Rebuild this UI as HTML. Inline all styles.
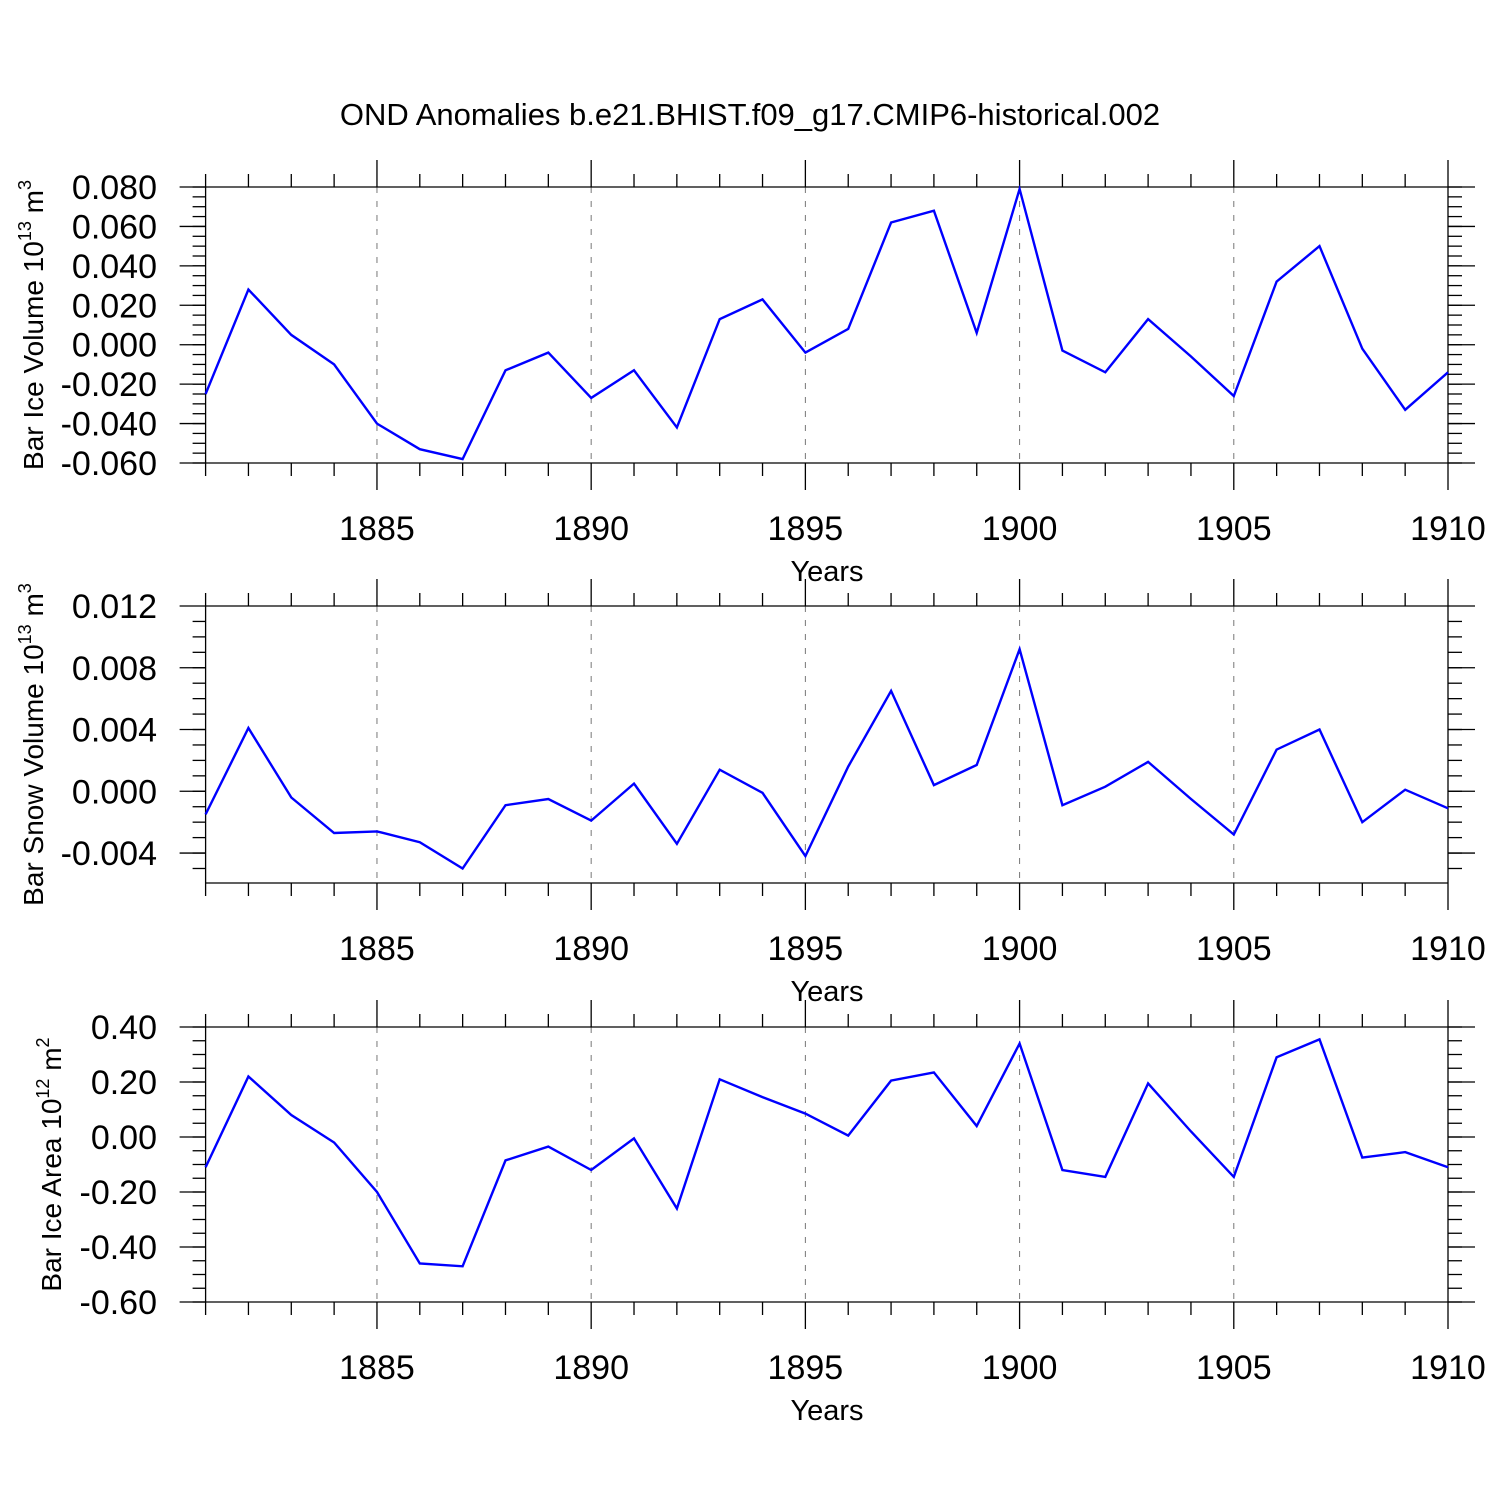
<!DOCTYPE html>
<html><head><meta charset="utf-8"><style>
body{margin:0;background:#fff}
svg{display:block;font-family:"Liberation Sans",sans-serif}
</style></head><body>
<svg id="c" width="1500" height="1500" viewBox="0 0 1500 1500">
<text x="750" y="125" font-size="31" text-anchor="middle">OND Anomalies b.e21.BHIST.f09_g17.CMIP6-historical.002</text>
</svg>
<script>
const years = [1881,1882,1883,1884,1885,1886,1887,1888,1889,1890,1891,1892,1893,1894,1895,1896,1897,1898,1899,1900,1901,1902,1903,1904,1905,1906,1907,1908,1909,1910];
const iceVolume = [-0.025,0.028,0.005,-0.010,-0.040,-0.053,-0.058,-0.013,-0.004,-0.027,-0.013,-0.042,0.013,0.023,-0.004,0.008,0.062,0.068,0.006,0.079,-0.003,-0.014,0.013,-0.006,-0.026,0.032,0.050,-0.002,-0.033,-0.014];
const snowVolume = [-0.0015,0.0041,-0.0004,-0.0027,-0.0026,-0.0033,-0.0050,-0.0009,-0.0005,-0.0019,0.0005,-0.0034,0.0014,-0.0001,-0.0042,0.0016,0.0065,0.0004,0.0017,0.0092,-0.0009,0.0003,0.0019,-0.0005,-0.0028,0.0027,0.0040,-0.0020,0.0001,-0.0011];
const iceArea = [-0.11,0.22,0.08,-0.02,-0.20,-0.46,-0.47,-0.085,-0.035,-0.12,-0.005,-0.26,0.21,0.145,0.085,0.005,0.205,0.235,0.04,0.34,-0.12,-0.145,0.195,0.02,-0.145,0.29,0.355,-0.075,-0.055,-0.11];
const xTickLabels = [1885,1890,1895,1900,1905,1910];
const iceVolTicks = [0.080,0.060,0.040,0.020,0.000,-0.020,-0.040,-0.060];
const snowTicks = [0.012,0.008,0.004,0.000,-0.004];
const areaTicks = [0.40,0.20,0.00,-0.20,-0.40,-0.60];

const svg=document.getElementById('c');
const NS='http://www.w3.org/2000/svg';
function mk(tag,attrs,parent){const e=document.createElementNS(NS,tag);for(const k in attrs)e.setAttribute(k,attrs[k]);(parent||svg).appendChild(e);return e;}
const X0=205.6,X1=1448,Y0=1881,Y1=1910;
const xs=v=>X0+(v-Y0)/(Y1-Y0)*(X1-X0);

function panel(p){
  const g=mk('g',{});
  
  
  const ys=v=>p.top+(p.max-v)/(p.max-p.min)*(p.bot-p.top);
  const ln=(x1,y1,x2,y2,extra)=>mk('line',Object.assign({x1,y1,x2,y2,stroke:'#000','stroke-width':1.3},extra||{}),g);
  ln(X0,p.top,X0,p.bot); ln(X1,p.top,X1,p.bot);
  for(let y=Y0;y<=Y1;y++){
    const major=y%5===0, x=xs(y), L=major?27:13;
    ln(x,p.top,x,p.top-L); ln(x,p.bot,x,p.bot+L);
    if(major&&y<Y1){const d=ln(x,p.top,x,p.bot,{stroke:'#777','stroke-dasharray':'6,8','stroke-width':1});}
  }
  for(let v=p.min;v<=p.max+1e-9;v+=p.minor){
    const vv=Math.round(v/p.minor)*p.minor;
    if(vv<p.min-1e-9||vv>p.max+1e-9)continue;
    const y=ys(vv); ln(X0,y,X0-13,y); ln(X1,y,X1+14,y);
  }
  p.ticks.forEach(t=>{const y=ys(t); ln(X0,y,X0-26,y); ln(X1,y,X1+27,y);
    const tx=mk('text',{x:157,y:y+12,'font-size':34,'text-anchor':'end'},g);tx.textContent=t.toFixed(p.dec);
    });
  ln(X0,p.top,X1,p.top); ln(X0,p.bot,X1,p.bot);
  xTickLabels.forEach(yr=>{const tx=mk('text',{x:xs(yr),y:p.bot+77,'font-size':34,'text-anchor':'middle'},g);tx.textContent=yr;
    });
  const xt=mk('text',{x:827,y:p.bot+118,'font-size':29,'text-anchor':'middle'},g);xt.textContent='Years';
  
  const cy=(p.top+p.bot)/2;
  const yt=mk('text',{x:0,y:0,'font-size':28,'text-anchor':'middle',transform:`translate(${p.tx},${cy}) rotate(-90)`},g);
  
  yt.innerHTML=p.title;
  const pts=years.map((yr,i)=>xs(yr).toFixed(1)+','+ys(p.data[i]).toFixed(1)).join(' ');
  const pl=mk('polyline',{points:pts,fill:'none',stroke:'#0000ff','stroke-width':2.4,'stroke-linejoin':'miter'},g);
  
}
panel({name:'ice-volume-panel',data:iceVolume,ticks:iceVolTicks,top:187,bot:463,max:0.080,min:-0.060,minor:0.005,dec:3,tx:43,
  title:'Bar Ice Volume 10<tspan font-size="18" dy="-12">13</tspan><tspan dy="12"> m</tspan><tspan font-size="18" dy="-12">3</tspan>'});
panel({name:'snow-volume-panel',data:snowVolume,ticks:snowTicks,top:606,bot:883,max:0.012,min:-0.00594,minor:0.001,dec:3,tx:43,
  title:'Bar Snow Volume 10<tspan font-size="18" dy="-12">13</tspan><tspan dy="12"> m</tspan><tspan font-size="18" dy="-12">3</tspan>'});
panel({name:'ice-area-panel',data:iceArea,ticks:areaTicks,top:1027,bot:1302,max:0.40,min:-0.60,minor:0.05,dec:2,tx:61,
  title:'Bar Ice Area 10<tspan font-size="18" dy="-12">12</tspan><tspan dy="12"> m</tspan><tspan font-size="18" dy="-12">2</tspan>'});
</script>
</body></html>
